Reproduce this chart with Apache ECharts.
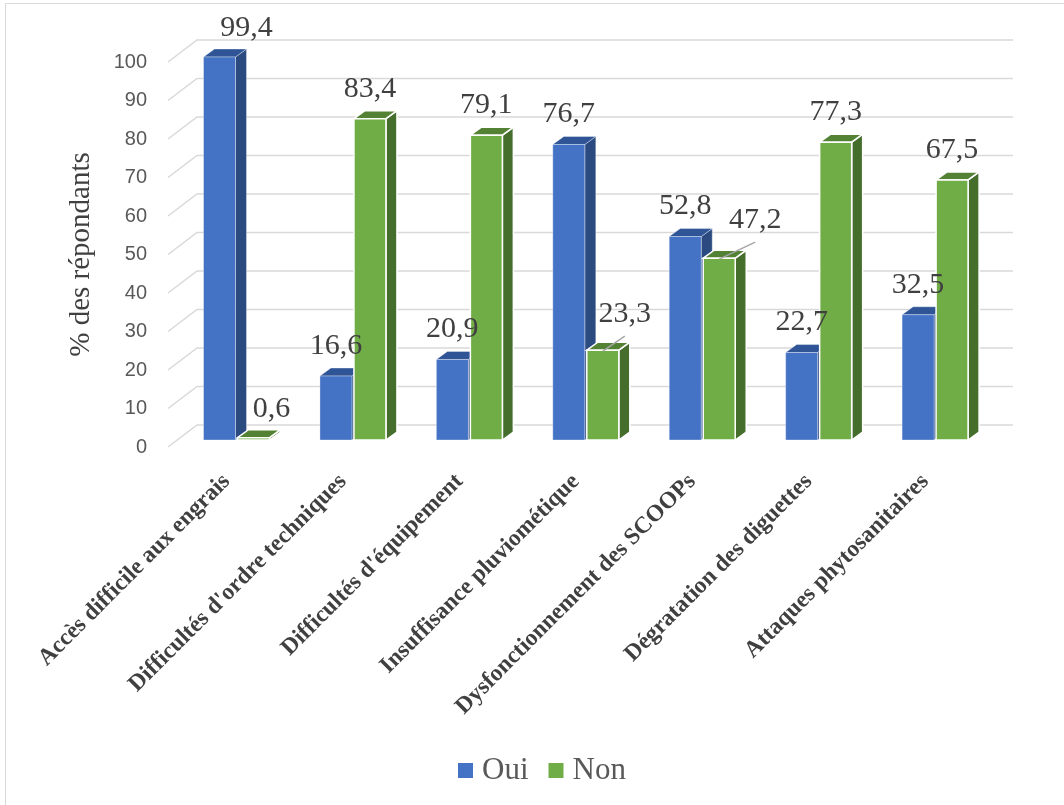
<!DOCTYPE html>
<html>
<head>
<meta charset="utf-8">
<script src="https://cdn.jsdelivr.net/npm/echarts@6/dist/echarts.min.js"></script>
<style>html,body{margin:0;padding:0;background:#fff}#c{width:1064px;height:805px}</style>
</head>
<body>
<div id="c"></div>
<script>
const categories = [
  "Accès difficile aux engrais",
  "Difficultés d'ordre techniques",
  "Difficultés d'équipement",
  "Insuffisance pluviométique",
  "Dysfonctionnement des SCOOPs",
  "Dégratation des diguettes",
  "Attaques phytosanitaires"
];
const oui = [99.4, 16.6, 20.9, 76.7, 52.8, 22.7, 32.5];
const non = [0.6, 83.4, 79.1, 23.3, 47.2, 77.3, 67.5];
const yTicks = [0, 10, 20, 30, 40, 50, 60, 70, 80, 90, 100];

// label nudges (style only): [dx, dy, leaderLine]
const ouiLabelShift = {0: [27, 1, false]};
const nonLabelShift = {0: [18, 1, false], 3: [22, -6, true], 4: [36, -8, true]};

const DX = 11, DY = -8, BW = 32;
const OUI_OFF = -33, NON_OFF = 1;
const fmt = v => v.toFixed(1).replace('.', ',');

function barSeries(name, values, front, topC, sideC, offset, stroke, z) {
  return {
    type: 'custom', name: name, xAxisIndex: 0, yAxisIndex: 0, z: z,
    itemStyle: {color: front},
    data: values.map((v, i) => [i, v]),
    renderItem: function (params, api) {
      const i = api.value(0), v = api.value(1);
      const p = api.coord([i, v]);
      const b = api.coord([i, 0]);
      const x0 = p[0] + offset, top = p[1], bot = b[1];
      const lw = stroke.w;
      return {type: 'group', children: [
        {type: 'polygon', shape: {points: [[x0 + BW, top], [x0 + BW + DX, top + DY], [x0 + BW + DX, bot + DY], [x0 + BW, bot]]},
          style: {fill: sideC, stroke: stroke.c, lineWidth: lw}},
        {type: 'polygon', shape: {points: [[x0, top], [x0 + DX, top + DY], [x0 + BW + DX, top + DY], [x0 + BW, top]]},
          style: {fill: topC, stroke: stroke.c, lineWidth: lw}},
        {type: 'rect', shape: {x: x0, y: top, width: BW, height: bot - top},
          style: {fill: front, stroke: stroke.c, lineWidth: lw}}
      ]};
    }
  };
}

function labelSeries(name, values, offset, shifts) {
  return {
    type: 'custom', name: name, xAxisIndex: 0, yAxisIndex: 0, z: 10, silent: true,
    data: values.map((v, i) => [i, v]),
    renderItem: function (params, api) {
      const i = api.value(0), v = api.value(1);
      const p = api.coord([i, v]);
      const cx = p[0] + offset + BW / 2, top = p[1];
      const s = shifts[i] || [0, 0, false];
      const lx = cx + s[0], ly = top - 30 + s[1];
      const children = [];
      if (s[2]) {
        children.push({type: 'line', shape: {x1: cx, y1: top + 1, x2: lx, y2: ly + 22},
          style: {stroke: '#A6A6A6', lineWidth: 1.5}});
      }
      children.push({type: 'text', style: {text: fmt(v), x: lx, y: ly, fill: '#404040',
        fontSize: 30, fontFamily: 'Liberation Serif', align: 'center', verticalAlign: 'middle'}});
      return {type: 'group', children: children};
    }
  };
}

const chart = echarts.init(document.getElementById('c'));
chart.setOption({
  animation: false,
  backgroundColor: '#fff',
  graphic: [{type: 'rect', shape: {x: 5.5, y: 3.5, width: 1070, height: 820},
    style: {fill: 'none', stroke: '#D9D9D9', lineWidth: 1}, z: 0}],
  legend: {
    data: ['Oui', 'Non'], icon: 'rect', itemWidth: 15, itemHeight: 15, itemGap: 20,
    left: 453, top: 750,
    textStyle: {fontSize: 31, fontFamily: 'Liberation Serif', color: '#595959', padding: [0, 0, 0, 4]}
  },
  grid: [
    {left: 178.3, width: 815, top: 54.7, bottom: 365},
    {left: 168, right: 51, top: 62, bottom: 358},
    {left: 168.3, width: 815, top: 54.7, bottom: 365}
  ],
  xAxis: [
    {type: 'category', gridIndex: 0, data: categories, show: false},
    {type: 'value', gridIndex: 1, min: 0, max: 1, show: false},
    {type: 'category', gridIndex: 2, data: categories,
      axisLine: {show: false}, axisTick: {show: false},
      axisLabel: {interval: 0, rotate: 45, margin: 38, fontSize: 23.5, fontWeight: 'bold',
        fontFamily: 'Liberation Serif', color: '#404040'}}
  ],
  yAxis: [
    {type: 'value', gridIndex: 0, min: 0, max: 100, show: false},
    {type: 'value', gridIndex: 1, min: 0, max: 100, interval: 10,
      axisLine: {show: false}, axisTick: {show: false}, splitLine: {show: false},
      axisLabel: {margin: 21, fontSize: 20, fontFamily: 'Liberation Sans', color: '#595959'},
      name: '% des répondants', nameLocation: 'middle', nameRotate: 90, nameGap: 72,
      nameTextStyle: {fontSize: 29, fontFamily: 'Liberation Serif', color: '#404040'}},
    {type: 'value', gridIndex: 2, min: 0, max: 100, show: false}
  ],
  series: [
    {
      type: 'custom', name: 'grid', xAxisIndex: 1, yAxisIndex: 1, z: 1, silent: true,
      data: yTicks.map(v => [0, v]),
      renderItem: function (params, api) {
        const y = api.coord([0, api.value(1)])[1];
        const x0 = params.coordSys.x, w = params.coordSys.width;
        return {type: 'polyline', shape: {points: [[x0, y], [x0 + 29, y - 22], [x0 + w, y - 22]]},
          style: {stroke: '#D9D9D9', lineWidth: 1.5, fill: 'none'}};
      }
    },
    barSeries('Oui', oui, '#4472C4', '#2F5597', '#2B4A80', OUI_OFF, {c: 'rgba(255,255,255,0.35)', w: 1}, 3),
    barSeries('Non', non, '#70AD47', '#548235', '#456E2C', NON_OFF, {c: '#FFFFFF', w: 1.5}, 4),
    labelSeries('Oui-labels', oui, OUI_OFF, ouiLabelShift),
    labelSeries('Non-labels', non, NON_OFF, nonLabelShift)
  ]
});
</script>
</body>
</html>
